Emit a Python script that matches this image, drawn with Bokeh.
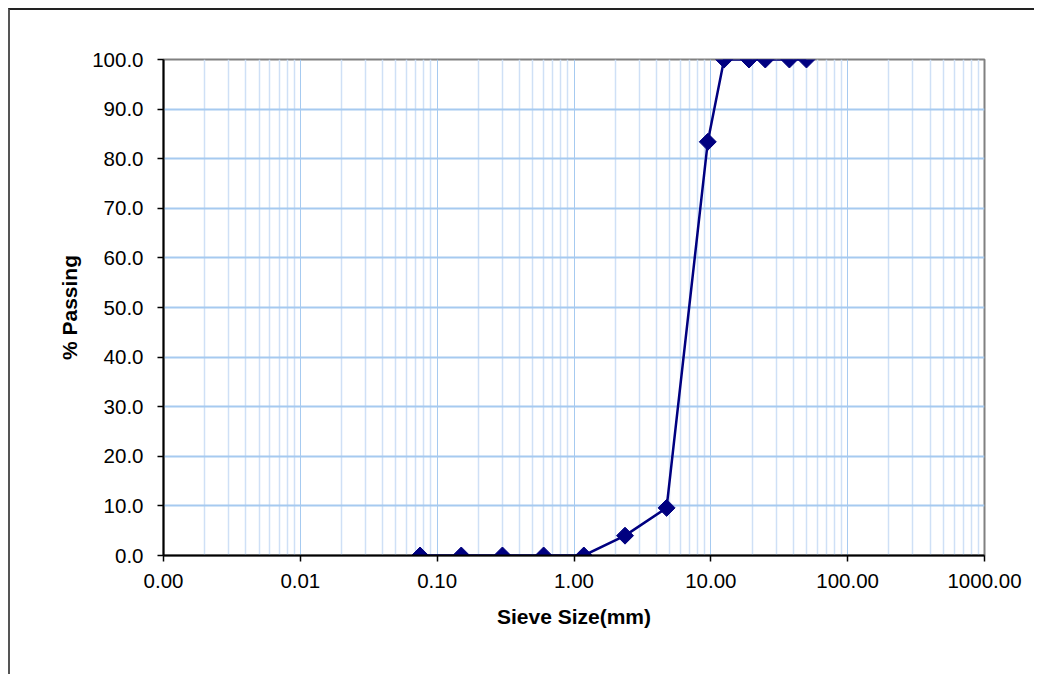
from bokeh.plotting import figure
from bokeh.models import FixedTicker, PrintfTickFormatter, ColumnDataSource, Range1d
from bokeh.embed import file_html
from bokeh.resources import INLINE
import math

# Sieve analysis results
sieve_mm = [0.075, 0.15, 0.3, 0.6, 1.18, 2.36, 4.75, 9.5, 12.5, 19.0, 25.0, 37.5, 50.0]
passing_pct = [0.0, 0.0, 0.0, 0.0, 0.0, 4.0, 9.6, 83.4, 100.0, 100.0, 100.0, 100.0, 100.0]

x_major = [0.001, 0.01, 0.1, 1.0, 10.0, 100.0, 1000.0]
x_minor = [k * d for d in [0.001, 0.01, 0.1, 1.0, 10.0, 100.0] for k in range(2, 10)]
y_major = [0, 10, 20, 30, 40, 50, 60, 70, 80, 90, 100]

src = ColumnDataSource(data=dict(x=sieve_mm, y=passing_pct))

p = figure(
    width=1026, height=666,
    x_axis_type="log",
    x_range=Range1d(0.001, 1000), y_range=Range1d(0, 100),
    output_backend="svg", toolbar_location=None,
    min_border_left=153, min_border_top=49, min_border_right=52, min_border_bottom=121,
)
p.styles = {
    "margin-left": "8px", "margin-top": "8px",
    "border-left": "2px solid #555555", "border-top": "2px solid #222222",
}

p.background_fill_color = "white"
p.border_fill_color = "white"
p.outline_line_color = "#808080"
p.outline_line_width = 2

# grid
p.xgrid.ticker = FixedTicker(ticks=x_major, minor_ticks=x_minor)
p.xgrid.grid_line_color = "#a6caf0"
p.xgrid.grid_line_width = 1
p.xgrid.minor_grid_line_color = "#cfe0f6"
p.xgrid.minor_grid_line_width = 1.5
p.ygrid.ticker = FixedTicker(ticks=y_major)
p.ygrid.grid_line_color = "#a6caf0"
p.ygrid.grid_line_width = 2

# axes
font = "Liberation Sans"
p.xaxis.ticker = FixedTicker(ticks=x_major)
p.yaxis.ticker = FixedTicker(ticks=y_major)
p.xaxis.formatter = PrintfTickFormatter(format="%.2f")
p.yaxis.formatter = PrintfTickFormatter(format="%.1f")
for ax in (p.xaxis[0], p.yaxis[0]):
    ax.axis_line_color = "black"
    ax.axis_line_width = 2
    ax.major_tick_line_color = "black"
    ax.major_tick_line_width = 1.5
    ax.major_tick_out = 6
    ax.major_tick_in = 0
    ax.minor_tick_line_color = None
    ax.major_label_text_font = font
    ax.major_label_text_font_size = "20.5px"
    ax.major_label_text_color = "black"
    ax.axis_label_text_font = font
    ax.axis_label_text_font_size = "21px"
    ax.axis_label_text_font_style = "bold"
    ax.axis_label_text_color = "black"

p.xaxis.axis_label = "Sieve Size(mm)"
p.yaxis.axis_label = "% Passing"
p.xaxis.major_label_standoff = 12
p.yaxis.major_label_standoff = 14
p.xaxis.axis_label_standoff = 14
p.yaxis.axis_label_standoff = 8

# gradation curve
p.line("x", "y", source=src, line_color="#000080", line_width=2.5)
p.scatter("x", "y", source=src, marker="square", angle=math.pi / 4, size=12,
          fill_color="#000080", line_color="#000080")

open("out.html", "w").write(file_html(p, INLINE))
